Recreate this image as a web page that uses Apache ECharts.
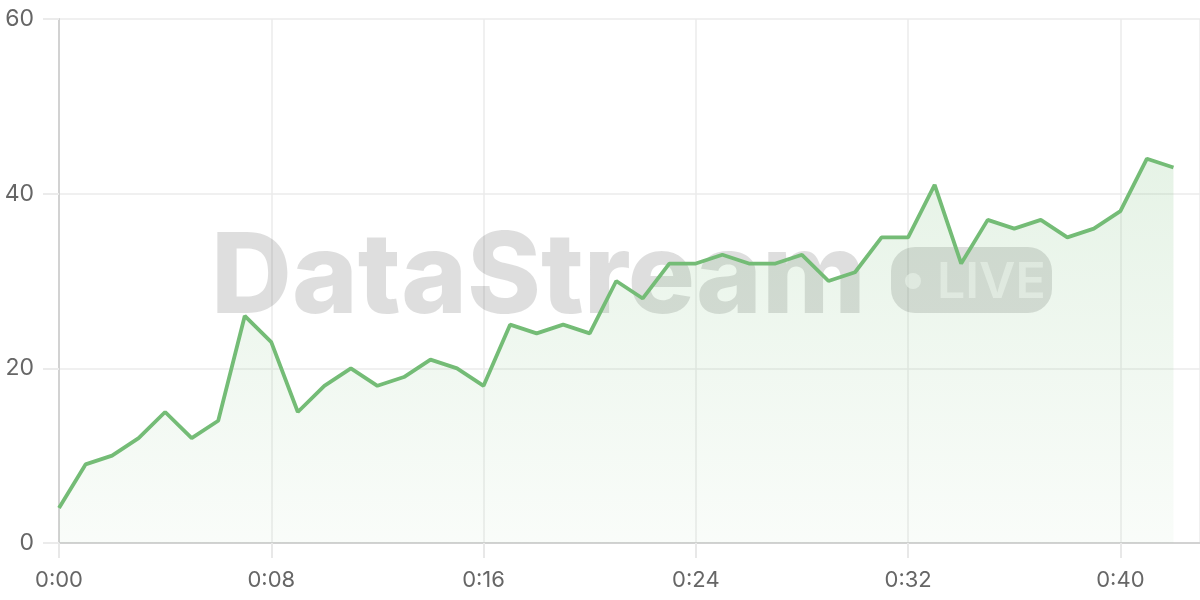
<!DOCTYPE html>
<html>
<head>
<meta charset="utf-8">
<script src="https://cdn.jsdelivr.net/npm/echarts@6/dist/echarts.min.js"></script>
<style>
  html, body { margin: 0; padding: 0; background: #ffffff; }
  #chart { width: 1200px; height: 600px; }
</style>
</head>
<body>
<div id="chart"></div>
<script>
// Data
var seconds = [0,1,2,3,4,5,6,7,8,9,10,11,12,13,14,15,16,17,18,19,20,21,22,23,24,25,26,27,28,29,30,31,32,33,34,35,36,37,38,39,40,41,42];
var values  = [4,9,10,12,15,12,14,26,23,15,18,20,18,19,21,20,18,25,24,25,24,30,28,32,32,33,32,32,33,30,31,35,35,41,32,37,36,37,35,36,38,44,43];
var watermarkTitle = 'DataStream';
var watermarkBadge = 'LIVE';

var seriesData = seconds.map(function (s, i) { return [s, values[i]]; });

function fmtTime(v) {
  var m = Math.floor(v / 60);
  var s = v % 60;
  return m + ':' + (s < 10 ? '0' + s : s);
}

var chart = echarts.init(document.getElementById('chart'));
var green = '#74bc76';
var option = {
  backgroundColor: '#ffffff',
  animation: false,
  grid: { left: 59, right: 0, top: 19, bottom: 57 },
  xAxis: {
    type: 'value',
    min: 0,
    max: 43,
    interval: 8,
    axisLine: { show: true, lineStyle: { color: '#d2d2d2', width: 2 } },
    axisTick: { show: true, length: 15, lineStyle: { color: '#e8e8e8', width: 2 } },
    splitLine: { show: true, lineStyle: { color: '#ebebeb', width: 1.5 } },
    axisLabel: {
      margin: 26,
      color: '#666666',
      fontSize: 22,
      fontFamily: 'Inter',
      showMaxLabel: false,
      formatter: function (v) { return v % 8 === 0 ? fmtTime(v) : ''; }
    }
  },
  yAxis: {
    type: 'value',
    min: 0,
    max: 60,
    interval: 20,
    axisLine: { show: true, lineStyle: { color: '#d2d2d2', width: 2 } },
    axisTick: { show: true, length: 16, lineStyle: { color: '#ebebeb', width: 2 } },
    splitLine: { show: true, lineStyle: { color: '#ebebeb', width: 1.5 } },
    axisLabel: {
      margin: 25,
      color: '#666666',
      fontSize: 23,
      fontFamily: 'Inter'
    }
  },
  graphic: [
    {
      type: 'text',
      z: 1,
      silent: true,
      style: {
        x: 211,
        y: 279,
        text: watermarkTitle,
        font: '800 112px Inter',
        fill: 'rgba(0,0,0,0.13)',
        align: 'left',
        verticalAlign: 'middle'
      }
    },
    {
      type: 'rect',
      z: 1,
      silent: true,
      shape: { x: 891, y: 247, width: 161, height: 66, r: 24 },
      style: { fill: 'rgba(0,0,0,0.13)' }
    },
    {
      type: 'circle',
      z: 1,
      silent: true,
      shape: { cx: 913, cy: 281, r: 8 },
      style: { fill: 'rgba(255,255,255,0.55)' }
    },
    {
      type: 'text',
      z: 1,
      silent: true,
      style: {
        x: 937,
        y: 283,
        text: watermarkBadge,
        font: '600 50px Inter',
        fill: 'rgba(255,255,255,0.55)',
        align: 'left',
        verticalAlign: 'middle'
      }
    }
  ],
  series: [
    {
      type: 'line',
      data: seriesData,
      symbol: 'none',
      z: 3,
      lineStyle: { color: green, width: 3.8 },
      itemStyle: { color: green },
      areaStyle: {
        color: new echarts.graphic.LinearGradient(0, 0, 0, 1, [
          { offset: 0, color: 'rgba(116,188,118,0.26)' },
          { offset: 1, color: 'rgba(116,188,118,0.06)' }
        ])
      }
    }
  ]
};
chart.setOption(option);
</script>
</body>
</html>
